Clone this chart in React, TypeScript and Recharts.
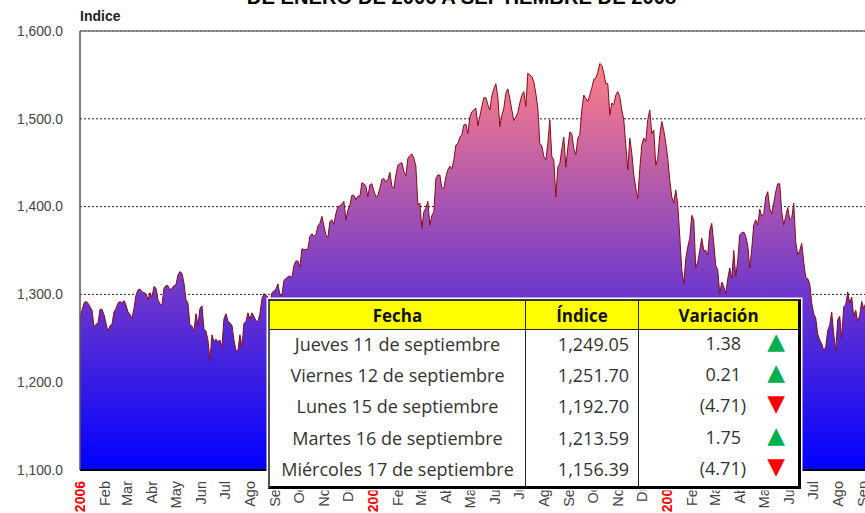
import { Area, AreaChart, CartesianGrid, ReferenceLine, XAxis, YAxis } from "recharts"

// indice, one reading every SAMPLE_DAYS calendar days from 1 Jan 2006
const SAMPLE_DAYS = 2.4876

const valuesA = [
  1273, 1282, 1290, 1292, 1290, 1286, 1282, 1263, 1266, 1267, 1283, 1283, 1277, 1267, 1258, 1264, 1266, 1280, 1284, 1290,
  1292, 1290, 1293, 1288, 1280, 1277, 1273, 1284, 1299, 1305, 1306, 1303, 1302, 1301, 1294, 1302, 1297, 1309, 1307, 1294,
  1289, 1288, 1307, 1310, 1310, 1305, 1307, 1310, 1311, 1322, 1326, 1324, 1313, 1294, 1290, 1265, 1264, 1258, 1278, 1265,
  1284, 1287, 1261, 1258, 1248, 1225, 1254, 1246, 1249, 1246, 1248, 1240, 1272, 1278, 1270, 1267, 1265, 1248, 1236, 1236,
  1254, 1240, 1267, 1269, 1279, 1272, 1279, 1275, 1270, 1269, 1278, 1295, 1301, 1299, 1297,
]
const valuesB = [
  1290, 1302, 1304, 1306, 1312, 1299, 1299, 1316, 1318, 1320, 1321, 1319, 1333, 1338, 1338, 1331, 1352, 1351, 1351, 1352,
  1366, 1369, 1366, 1368, 1378, 1381, 1389, 1378, 1368, 1365, 1383, 1385, 1380, 1392, 1400, 1401, 1403, 1406, 1385, 1396,
  1402, 1413, 1413, 1408, 1412, 1412, 1427, 1426, 1423, 1411, 1425, 1426, 1418, 1411, 1413, 1421, 1431, 1432, 1428, 1431,
  1439, 1423, 1421, 1436, 1447, 1449, 1450, 1440, 1435, 1455, 1458, 1460, 1455, 1446, 1402, 1404, 1375, 1394, 1398, 1406,
  1379, 1390, 1394, 1432, 1436,
]
const valuesC = [
  1436, 1421, 1421, 1434, 1442, 1446, 1443, 1453, 1470, 1472, 1479, 1482, 1493, 1494, 1483, 1502, 1508, 1510, 1512, 1492,
  1503, 1514, 1524, 1524, 1516, 1510, 1526, 1534, 1540, 1525, 1491, 1504, 1512, 1529, 1534, 1523, 1510, 1498, 1502, 1507,
  1518, 1527, 1531, 1514, 1552, 1550, 1548, 1542, 1529, 1512, 1472, 1469, 1457, 1453, 1472, 1499, 1457, 1453, 1411, 1445,
  1449, 1466, 1479, 1445, 1467, 1485, 1483, 1466, 1459, 1478, 1482, 1510, 1527, 1523, 1520, 1527, 1535, 1545, 1546, 1553,
  1563, 1561, 1552, 1540, 1540, 1504, 1518, 1516, 1527, 1531,
]
const valuesD = [
  1525, 1510, 1499, 1470, 1442, 1478, 1461, 1436, 1421, 1409, 1443, 1470, 1478, 1474, 1499, 1510, 1483, 1487, 1447, 1455,
  1481, 1497, 1487, 1472, 1455, 1430, 1411, 1404, 1419, 1402, 1366, 1328, 1312, 1341, 1354, 1364, 1390, 1385, 1330, 1337,
  1350, 1364, 1350, 1350, 1345, 1373, 1381, 1358, 1333, 1328, 1301, 1314, 1309, 1301, 1318, 1330, 1318, 1350,
]
const valuesE = [
  1320, 1339, 1368, 1370, 1371, 1366, 1356, 1330, 1352, 1379, 1385, 1379, 1397, 1389, 1392, 1411, 1417, 1398, 1392, 1404,
  1417, 1426, 1426, 1394, 1379, 1389, 1399, 1385, 1387, 1404, 1360, 1345, 1350, 1358, 1337, 1319, 1318, 1312, 1290, 1278,
  1273, 1255, 1248, 1244, 1236, 1240, 1259, 1265, 1280, 1255, 1236, 1271, 1275, 1250, 1286, 1288, 1303, 1290, 1297, 1275,
  1282, 1269, 1276, 1292, 1284, 1290,
]
const indexValues = [...valuesA, ...valuesB, ...valuesC, ...valuesD, ...valuesE]

const monthDays = [
  0, 31, 59, 90, 120, 151, 181, 212, 243, 273, 304, 334,
  365, 396, 424, 455, 485, 516, 546, 577, 608, 638, 669, 699,
  730, 761, 790, 821, 851, 882, 912, 943, 974,
]
const monthLabels = [
  "2006", "Feb", "Mar", "Abr", "May", "Jun", "Jul", "Ago", "Sep", "Oct", "Nov", "Dic",
  "2007", "Feb", "Mar", "Abr", "May", "Jun", "Jul", "Ago", "Sep", "Oct", "Nov", "Dic",
  "2008", "Feb", "Mar", "Abr", "May", "Jun", "Jul", "Ago", "Sep",
]
const yTicks = [1100, 1200, 1300, 1400, 1500, 1600]

const fechas = [
  "Jueves 11 de septiembre",
  "Viernes 12 de septiembre",
  "Lunes 15 de septiembre",
  "Martes 16 de septiembre",
  "Miércoles 17 de septiembre",
]
const indices = ["1,249.05", "1,251.70", "1,192.70", "1,213.59", "1,156.39"]
const variaciones = ["1.38", "0.21", "(4.71)", "1.75", "(4.71)"]
const subidas = [true, true, false, true, false]

const chartData = indexValues.map((value, i) => ({ day: i * SAMPLE_DAYS, value }))

const sans = "'Liberation Sans', Arial, sans-serif"
const tableFont = "'Open Sans', sans-serif"

function MonthTick({ x, y, payload }: any) {
  const label = monthLabels[monthDays.indexOf(payload.value)]
  const isYear = /^\d+$/.test(label)
  return (
    <text
      x={x + 5}
      y={y + 3}
      transform={`rotate(-90, ${x + 5}, ${y + 3})`}
      textAnchor="end"
      fontFamily={sans}
      fontSize={isYear ? 14 : 14.5}
      fontWeight={isYear ? 700 : 400}
      fill={isYear ? "#ff0000" : "#444444"}
    >
      {label}
    </text>
  )
}

const cell: React.CSSProperties = { padding: "0 0 3px 0", height: 28.2, lineHeight: 1, color: "#333333" }
const headCell: React.CSSProperties = {
  background: "#ffff00",
  color: "#111111",
  fontWeight: 700,
  fontSize: 17,
  textAlign: "center",
  height: 28,
  padding: 0,
  borderBottom: "1.5px solid #222222",
}
const divider = "1.5px solid #222222"

export default function App() {
  return (
    <div style={{ position: "absolute", left: 0, top: 0, width: 865, height: 513, overflow: "hidden", background: "#fff" }}>
      <div
        style={{
          position: "absolute", left: 246, top: -13, width: 431, textAlign: "center", whiteSpace: "nowrap",
          fontFamily: sans, fontWeight: 700, fontSize: 20.2, lineHeight: "20px", color: "#000",
        }}
      >
        DE ENERO DE 2006 A SEPTIEMBRE DE 2008
      </div>
      <div style={{ position: "absolute", left: 80, top: 8, fontFamily: sans, fontWeight: 700, fontSize: 14, lineHeight: "16px", color: "#222" }}>
        Indice
      </div>

      <AreaChart width={866} height={513} data={chartData} margin={{ top: 31, right: 0, bottom: 0, left: 0 }}>
        <defs>
          <linearGradient id="indiceFill" x1="0" y1="0" x2="0" y2="1">
            <stop offset="0%" stopColor="#ff8088" />
            <stop offset="100%" stopColor="#0000ff" />
          </linearGradient>
        </defs>
        <CartesianGrid horizontal vertical={false} stroke="#222222" strokeDasharray="2 2" />
        <XAxis
          dataKey="day"
          type="number"
          domain={[0, 978]}
          ticks={monthDays}
          interval={0}
          height={43}
          tick={<MonthTick />}
          tickLine={false}
          axisLine={{ stroke: "#000000", strokeWidth: 2 }}
        />
        <YAxis
          type="number"
          domain={[1100, 1600]}
          ticks={yTicks}
          width={80}
          tickLine={false}
          tickMargin={11}
          axisLine={{ stroke: "#555555", strokeWidth: 1.5 }}
          tickFormatter={(v: number) => v.toLocaleString("en-US", { minimumFractionDigits: 1 })}
          tick={{ fill: "#444444", fontSize: 13.8, fontFamily: sans }}
        />
        <ReferenceLine y={1600} stroke="#777777" strokeWidth={1.5} />
        <Area
          type="linear"
          dataKey="value"
          stroke="#8b0a14"
          strokeWidth={1}
          fill="url(#indiceFill)"
          fillOpacity={1}
          dot={false}
          activeDot={false}
          isAnimationActive={false}
        />
      </AreaChart>

      <table
        style={{
          position: "absolute", left: 268, top: 299, width: 533, height: 169, tableLayout: "fixed",
          borderCollapse: "separate", borderSpacing: 0, background: "#fff",
          borderTop: "2px solid #333333", borderLeft: "2px solid #555555",
          borderRight: "3px solid #000000", borderBottom: "3px solid #000000",
          boxShadow: "0 0 0 1.5px #ffffff", fontFamily: tableFont, fontSize: 18,
        }}
      >
        <colgroup>
          <col style={{ width: 256 }} />
          <col style={{ width: 113 }} />
          <col />
        </colgroup>
        <thead>
          <tr>
            <th style={{ ...headCell, borderRight: divider }}>Fecha</th>
            <th style={{ ...headCell, borderRight: divider }}>Índice</th>
            <th style={{ ...headCell, paddingRight: 0 }}>Variación</th>
          </tr>
        </thead>
        <tbody>
          {fechas.map((fecha, i) => (
            <tr key={fecha}>
              <td style={{ ...cell, textAlign: "center", borderRight: divider, whiteSpace: "nowrap" }}>{fecha}</td>
              <td style={{ ...cell, textAlign: "right", paddingRight: 9, borderRight: divider }}>{indices[i]}</td>
              <td style={{ ...cell, position: "relative" }}>
                <span style={{ position: "absolute", right: variaciones[i].startsWith("(") ? 52 : 57, top: 1, lineHeight: "24px" }}>{variaciones[i]}</span>
                <span
                  style={{
                    position: "absolute", right: 13, top: -1, fontFamily: "'DejaVu Sans', sans-serif", fontSize: 23,
                    lineHeight: "24px", color: subidas[i] ? "#00b050" : "#ff0000",
                  }}
                >
                  {subidas[i] ? "▲" : "▼"}
                </span>
              </td>
            </tr>
          ))}
        </tbody>
      </table>
    </div>
  )
}
